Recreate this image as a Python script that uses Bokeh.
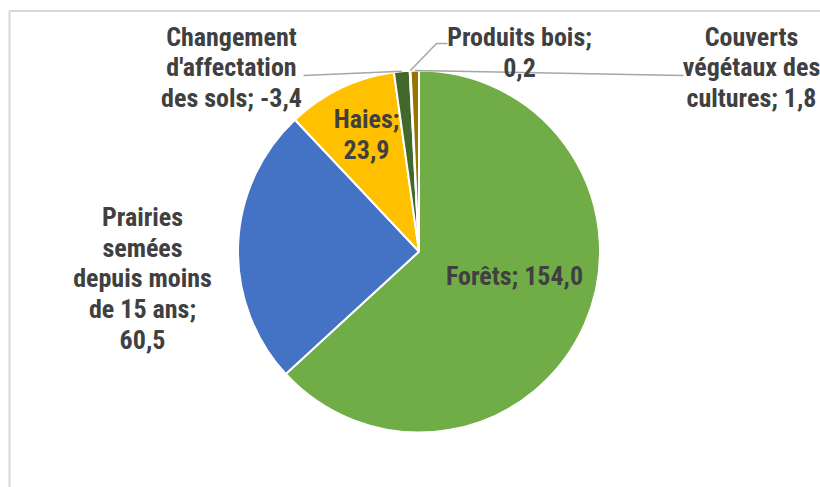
import math
import textwrap
import numpy as np
from bokeh.plotting import figure
from bokeh.models import Range1d, ColumnDataSource
from bokeh.core.properties import value
from bokeh.embed import file_html
from bokeh.resources import INLINE

# ---- data ----
categories = ["Forêts", "Prairies semées depuis moins de 15 ans", "Haies",
              "Changement d'affectation des sols", "Produits bois",
              "Couverts végétaux des cultures"]
values = [154.0, 60.5, 23.9, -3.4, 0.2, 1.8]
colors = ["#70AD47", "#4472C4", "#FFC000", "#43682B", "#A5A5A5", "#997300"]

# ---- layout (screen pixels of the 820x487 window) ----
W, H = 820, 487
cx, cy, R = 418.5, 251.0, 181.0
wrap_width = [20, 12, 7, 14, 14, 13]
label_pos = [(514, 275), (142, 278), (366, 134), (231, 67), (519, 52), (751, 67)]
# leader lines: label-side points (screen), pie point computed from data
leaders = {3: [(303, 75)], 4: [(447, 43), (436, 43)], 5: [(683, 75)]}

FONT = "Roboto Condensed"


def fy(y):
    return H - y


p = figure(width=W, height=H, output_backend="svg", toolbar_location=None,
           x_range=Range1d(0, W), y_range=Range1d(0, H),
           min_border=0)
p.axis.visible = False
p.grid.visible = False
p.outline_line_color = None
p.background_fill_color = "white"
p.border_fill_color = "white"

# frame lines (chart area border, cropped)
p.line([9, 9], [fy(10), fy(H)], line_color="#D9D9D9", line_width=2)
p.line([9, W], [fy(10.5), fy(10.5)], line_color="#D9D9D9", line_width=2)

sizes = np.abs(np.array(values))
total = sizes.sum()
cum = np.cumsum(sizes) / total
prev = np.concatenate([[0.0], cum[:-1]])
start = math.pi / 2 - 2 * math.pi * prev
end = math.pi / 2 - 2 * math.pi * cum

src = ColumnDataSource(dict(start=start, end=end, color=colors))
p.wedge(x=cx, y=fy(cy), radius=R, start_angle="start", end_angle="end",
        direction="clock", fill_color="color", line_color="white",
        line_width=2, source=src)

# leader lines
for i, pts in leaders.items():
    mid = (prev[i] + cum[i]) / 2
    th = math.pi / 2 - 2 * math.pi * mid
    px = cx + R * math.cos(th)
    py = fy(cy) + R * math.sin(th)
    xs = [q[0] for q in pts] + [px]
    ys = [fy(q[1]) for q in pts] + [py]
    p.line(xs, ys, line_color="#A6A6A6", line_width=1.5)

# labels
def fmt(v):
    return f"{v:.1f}".replace(".", ",")

texts = []
for cat, v, w in zip(categories, values, wrap_width):
    texts.append("\n".join(textwrap.wrap(f"{cat}; {fmt(v)}", w)))

lsrc = ColumnDataSource(dict(x=[q[0] for q in label_pos],
                             y=[fy(q[1]) for q in label_pos], text=texts))
p.text(x="x", y="y", text="text", source=lsrc, text_font=value(FONT),
       text_font_style="bold", text_font_size="26px", text_color="#404040",
       text_align="center", text_baseline="middle", text_line_height=1.03)

open("out.html", "w").write(file_html(p, INLINE))
